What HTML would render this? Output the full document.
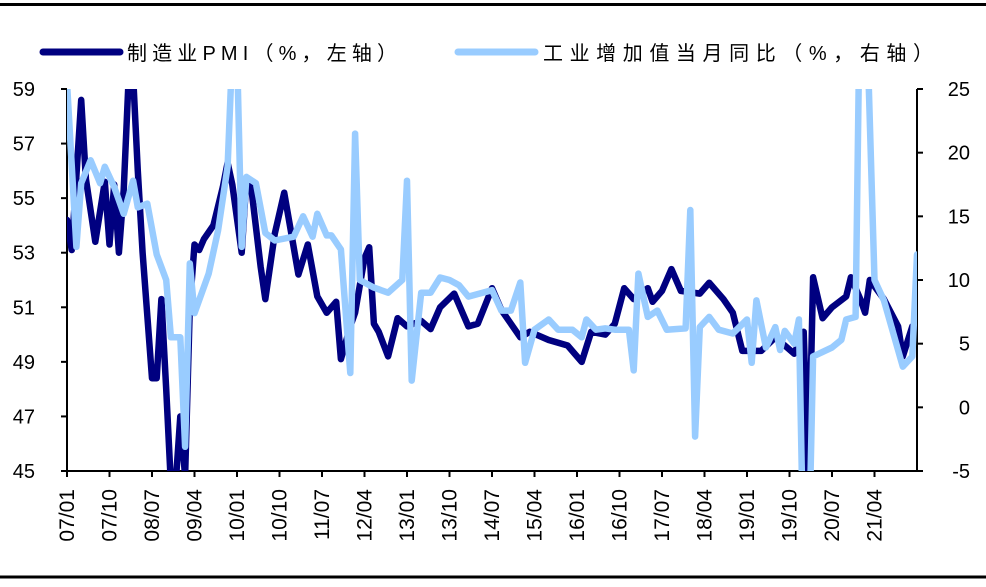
<!DOCTYPE html>
<html><head><meta charset="utf-8"><style>
body{margin:0;background:#fff;}
svg text{font-family:"Liberation Sans","Noto Sans CJK SC",sans-serif;fill:#000;}
</style></head><body>
<svg id="chart" width="986" height="582" viewBox="0 0 986 582" xmlns="http://www.w3.org/2000/svg">
<defs><clipPath id="pc"><rect x="67" y="89" width="850" height="382"/></clipPath></defs>
<line x1="0" y1="4.5" x2="986" y2="4.5" stroke="#000" stroke-width="3"/>
<line x1="0" y1="577" x2="986" y2="577" stroke="#000" stroke-width="3"/>
<g>
<line x1="43" y1="52" x2="120" y2="52" stroke="#000080" stroke-width="7" stroke-linecap="round"/>
<text x="127" y="60" font-size="20" textLength="270" lengthAdjust="spacing">制造业PMI（%，左轴）</text>
<line x1="458" y1="52" x2="535" y2="52" stroke="#99ccff" stroke-width="7" stroke-linecap="round"/>
<text x="543" y="60" font-size="20" textLength="390" lengthAdjust="spacing">工业增加值当月同比（%，右轴）</text>
</g>
<g id="axes"></g>
<g id="series" clip-path="url(#pc)"></g>
</svg>
<script>
const xTickLabels=["07/01","07/10","08/07","09/04","10/01","10/10","11/07","12/04","13/01","13/10","14/07","15/04","16/01","16/10","17/07","18/04","19/01","19/10","20/07","21/04"];
const leftTicks=[45,47,49,51,53,55,57,59];
const rightTicks=[-5,0,5,10,15,20,25];
const pmiDates=["07/01","07/02","07/04","07/05","07/07","07/09","07/10","07/11","07/12","08/01","08/02","08/03","08/04","08/05","08/07","08/08","08/09","08/10","08/11","08/12","09/01","09/02","09/03","09/04","09/05","09/06","09/08","09/10","09/11","09/12","10/02","10/03","10/04","10/06","10/07","10/09","10/11","11/01","11/02","11/04","11/06","11/08","11/10","11/11","12/01","12/02","12/04","12/05","12/06","12/07","12/09","12/11","13/01","13/04","13/06","13/08","13/11","14/02","14/04","14/07","14/09","15/01","15/03","15/07","15/11","16/02","16/04","16/07","16/09","16/11","17/01","17/04","17/05","17/07","17/09","17/11","18/03","18/05","18/08","18/10","18/12","19/04","19/07","19/11","20/01","20/02","20/03","20/05","20/07","20/10","20/11","21/01","21/02","21/03","21/06","21/09","21/10","21/12","22/01"];
const pmiValues=[54.2,53.1,58.6,55.7,53.4,55.6,53.3,55.5,53.0,55.3,59.2,59.5,56,53,48.4,48.4,51.3,48.0,44.5,44.5,47,44.8,51,53.3,53.1,53.5,54,55.4,56.3,55.5,53,55.7,55.4,52.5,51.3,53.7,55.2,53.2,52.2,53.3,51.4,50.8,51.2,49.1,50.3,50.8,52.8,53.2,50.4,50.1,49.2,50.6,50.3,50.5,50.2,51.0,51.5,50.3,50.4,51.7,50.9,49.9,50.1,49.8,49.6,49.0,50.1,50.0,50.4,51.7,51.3,51.7,51.2,51.6,52.4,51.6,51.5,51.9,51.3,50.8,49.4,49.4,49.9,49.3,50.1,44.5,52.1,50.6,51.0,51.4,52.1,51.3,50.8,52.0,51.3,50.3,49.2,50.3,50.3];
const ipDates=["07/01","07/03","07/04","07/06","07/08","07/09","07/11","08/01","08/03","08/04","08/06","08/08","08/10","08/11","09/01","09/02","09/03","09/04","09/07","09/09","09/11","09/12","10/01","10/02","10/03","10/05","10/07","10/09","11/01","11/03","11/05","11/06","11/08","11/09","11/11","12/01","12/02","12/03","12/06","12/09","12/12","13/01","13/02","13/04","13/06","13/08","13/10","13/12","14/02","14/05","14/07","14/09","14/11","15/01","15/02","15/04","15/07","15/09","15/12","16/02","16/03","16/05","16/07","16/09","16/12","17/01","17/02","17/04","17/06","17/08","17/12","18/01","18/02","18/03","18/05","18/07","18/10","19/01","19/02","19/03","19/05","19/07","19/08","19/09","19/11","19/12","20/01","20/02","20/03","20/07","20/09","20/10","20/12","21/01","21/02","21/04","21/06","21/10","21/12","22/01"];
const ipValues=[25.5,12.6,17.6,19.4,17.6,18.9,17.3,15.2,17.8,15.7,16,12,10,5.5,5.5,-3.1,11.3,7.4,10.5,13.9,18.9,28,28,12.6,18.1,17.6,13.7,13.1,13.4,15.0,13.4,15.2,13.5,13.5,12.4,2.7,21.5,10.0,9.4,9.0,10.0,17.8,2.1,9.0,9.0,10.2,10.0,9.6,8.7,9.0,9.2,7.6,7.6,9.8,3.5,6.1,6.9,6.1,6.1,5.5,6.9,6.1,6.2,6.1,6.1,2.9,10.5,7.1,7.6,6.1,6.2,15.5,-2.3,6.3,7.1,6.1,5.8,6.9,3.5,8.4,4.7,6.3,4.5,6.0,5.0,6.9,-13,-13,4.0,4.7,5.3,6.9,7.1,35,35,10,8.4,3.2,4.0,12];

const NS="http://www.w3.org/2000/svg";
const X0=67,X1=917,Y0=471,Y1=89,NM=180;
function mIndex(d){const p=d.split("/");return (parseInt(p[0],10)-7)*12+parseInt(p[1],10)-1;}
function xs(d){return X0+(X1-X0)*mIndex(d)/NM;}
function yl(v){return Y0-(v-45)/(59-45)*(Y0-Y1);}
function yr(v){return Y0-(v+5)/30*(Y0-Y1);}
function mk(tag,attrs,parent){const e=document.createElementNS(NS,tag);for(const k in attrs)e.setAttribute(k,attrs[k]);parent.appendChild(e);return e;}
const axes=document.getElementById("axes"),series=document.getElementById("series");
let el;
el=mk("line",{x1:X0,y1:Y1,x2:X0,y2:Y0,stroke:"#000","stroke-width":2},axes);


el=mk("line",{x1:X1,y1:Y1,x2:X1,y2:Y0,stroke:"#000","stroke-width":2},axes);


el=mk("line",{x1:X0,y1:Y0,x2:X1,y2:Y0,stroke:"#000","stroke-width":2},axes);


leftTicks.forEach(v=>{const y=yl(v);
 el=mk("line",{x1:X0-6,y1:y,x2:X0,y2:y,stroke:"#000","stroke-width":2},axes);
 
 
 el=mk("text",{x:35,y:y+7,"text-anchor":"end","font-size":20},axes);el.textContent=v;
 
 });
rightTicks.forEach(v=>{const y=yr(v);
 el=mk("line",{x1:X1,y1:y,x2:X1+6,y2:y,stroke:"#000","stroke-width":2},axes);
 
 
 el=mk("text",{x:970,y:y+7,"text-anchor":"end","font-size":20},axes);el.textContent=v;
 
 });
xTickLabels.forEach(d=>{const x=xs(d);
 el=mk("line",{x1:x,y1:Y0,x2:x,y2:Y0+6,stroke:"#000","stroke-width":2},axes);
 
 
 el=mk("text",{x:0,y:0,"text-anchor":"end","font-size":21,transform:"translate("+(x+7)+","+(Y0+18)+") rotate(-90)"},axes);el.textContent=d;
 
 });
function pathOf(dates,vals,yf){return dates.map((d,i)=>(i?"L":"M")+xs(d).toFixed(1)+","+yf(vals[i]).toFixed(1)).join("");}
el=mk("path",{d:pathOf(pmiDates,pmiValues,yl),fill:"none",stroke:"#000080","stroke-width":6.5,"stroke-linejoin":"round","stroke-linecap":"round"},series);


el=mk("path",{d:pathOf(ipDates,ipValues,yr),fill:"none",stroke:"#99ccff","stroke-width":6.5,"stroke-linejoin":"round","stroke-linecap":"round"},series);


</script>
</body></html>
